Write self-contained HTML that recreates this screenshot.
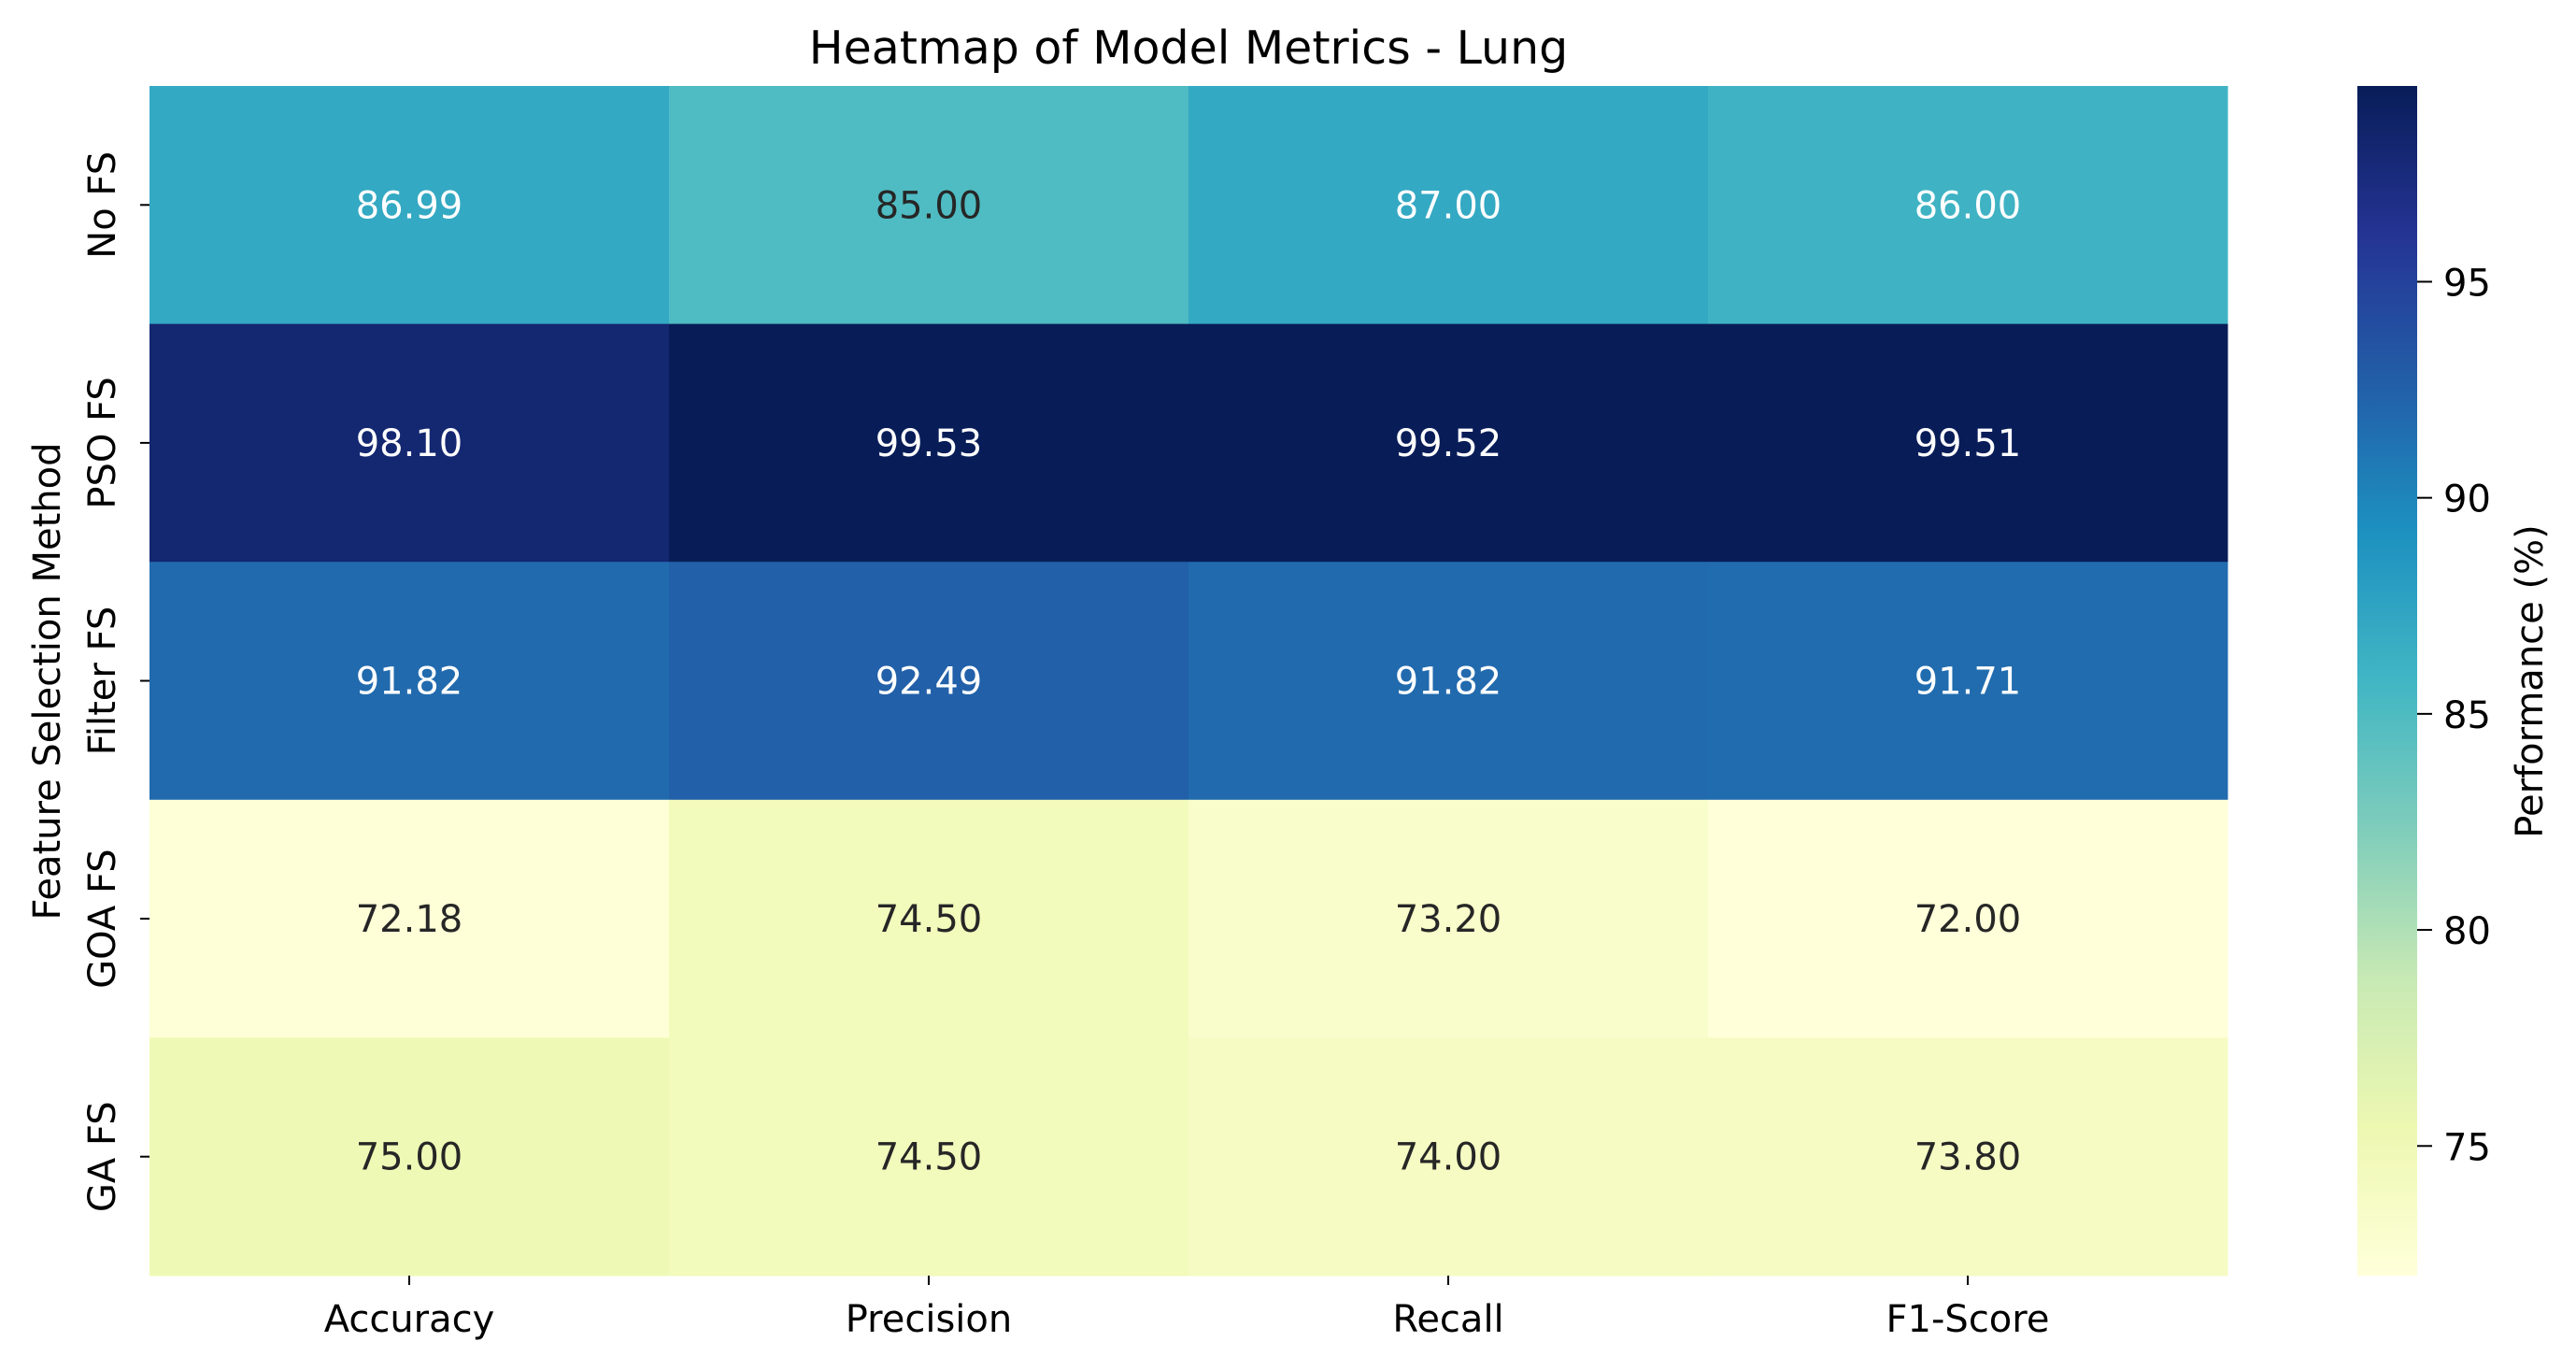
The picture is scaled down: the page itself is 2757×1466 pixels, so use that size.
<!DOCTYPE html>
<html><head><meta charset="utf-8">
<style>
html,body{margin:0;padding:0;background:#fff;}
svg{display:block;font-family:"DejaVu Sans","Liberation Sans",sans-serif;}
</style></head>
<body>
<svg id="chart" width="2757" height="1466" viewBox="0 0 2757 1466" xmlns="http://www.w3.org/2000/svg">
<rect x="0" y="0" width="2757" height="1466" fill="#ffffff"/>
<text x="1272" y="68" font-size="49" text-anchor="middle" fill="#000">Heatmap of Model Metrics - Lung</text>
<text transform="translate(64,729) rotate(-90)" font-size="40" text-anchor="middle" fill="#000">Feature Selection Method</text>
<text transform="translate(2721,729) rotate(-90)" font-size="40" text-anchor="middle" fill="#000">Performance (%)</text>
<defs><linearGradient id="cbgrad" x1="0" y1="1" x2="0" y2="0"></linearGradient></defs>
<g id="cells"></g>
<g id="xticks"></g>
<g id="yticks"></g>
<g id="colorbar"></g>
</svg>
<script>
const rows = ["No FS","PSO FS","Filter FS","GOA FS","GA FS"];
const cols = ["Accuracy","Precision","Recall","F1-Score"];
const noFS = [86.99,85.00,87.00,86.00];
const psoFS = [98.10,99.53,99.52,99.51];
const filterFS = [91.82,92.49,91.82,91.71];
const goaFS = [72.18,74.50,73.20,72.00];
const gaFS = [75.00,74.50,74.00,73.80];
const cbTicks = [75,80,85,90,95];
const values = [noFS,psoFS,filterFS,goaFS,gaFS];

const NS="http://www.w3.org/2000/svg";
const L=160,R=2384,T=92,B=1365;
const CBX=2523,CBW=64;
const all=values.flat();
const vmin=Math.min(...all), vmax=Math.max(...all);
const stops=["#ffffd9","#edf8b1","#c7e9b4","#7fcdbb","#41b6c4","#1d91c0","#225ea8","#253494","#081d58"];
function hex(h){return [1,3,5].map(i=>parseInt(h.substr(i,2),16));}
function cmap(t){t=Math.max(0,Math.min(1,t));const p=t*(stops.length-1);const i=Math.min(Math.floor(p),stops.length-2);const f=p-i;const a=hex(stops[i]),b=hex(stops[i+1]);return "rgb("+a.map((v,k)=>Math.round(v+(b[k]-v)*f)).join(",")+")";}
function norm(v){return (v-vmin)/(vmax-vmin);}
const cw=(R-L)/cols.length, ch=(B-T)/rows.length;
const xPos=j=>L+j*cw, yPos=i=>T+i*ch;
function mk(tag,attrs,parent){const e=document.createElementNS(NS,tag);for(const k in attrs)e.setAttribute(k,attrs[k]);parent.appendChild(e);return e;}
const cells=document.getElementById('cells');
values.forEach((row,i)=>row.forEach((v,j)=>{
  const r=mk('rect',{x:xPos(j),y:yPos(i),width:cw+0.5,height:ch+0.5,fill:cmap(norm(v))},cells);
  
  
  const t=mk('text',{x:xPos(j)+cw/2,y:yPos(i)+ch/2+14,'font-size':40,'text-anchor':'middle',fill:norm(v)>0.5?'#ffffff':'#262626'},cells);
  t.textContent=v.toFixed(2);
  
  
}));
const xt=document.getElementById('xticks');
cols.forEach((c,j)=>{
  const cx=xPos(j)+cw/2;
  const l=mk('line',{x1:cx,x2:cx,y1:B,y2:B+10,stroke:'#000','stroke-width':2},xt);
  
  
  const t=mk('text',{x:cx,y:B+60,'font-size':40,'text-anchor':'middle',fill:'#000'},xt);
  t.textContent=c;
  
  
});
const yt=document.getElementById('yticks');
rows.forEach((r,i)=>{
  const cy=yPos(i)+ch/2;
  const l=mk('line',{x1:L-10,x2:L,y1:cy,y2:cy,stroke:'#000','stroke-width':2},yt);
  
  
  const t=mk('text',{transform:'translate(123,'+cy+') rotate(-90)','font-size':40,'text-anchor':'middle',fill:'#000'},yt);
  t.textContent=r;
  
  
});
const g=document.getElementById('cbgrad');
for(let k=0;k<=40;k++){mk('stop',{offset:(k/40),'stop-color':cmap(k/40)},g);}
const cb=document.getElementById('colorbar');
const cbr=mk('rect',{x:CBX,y:T,width:CBW,height:B-T,fill:'url(#cbgrad)'},cb);


const cbY=v=>B-(v-vmin)/(vmax-vmin)*(B-T);
cbTicks.forEach(v=>{
  const y=cbY(v);
  const l=mk('line',{x1:CBX+CBW,x2:CBX+CBW+16,y1:y,y2:y,stroke:'#000','stroke-width':2},cb);
  
  
  const t=mk('text',{x:CBX+CBW+28,y:y+15,'font-size':40,fill:'#000'},cb);
  t.textContent=String(v);
  
  
});
</script>
</body></html>
